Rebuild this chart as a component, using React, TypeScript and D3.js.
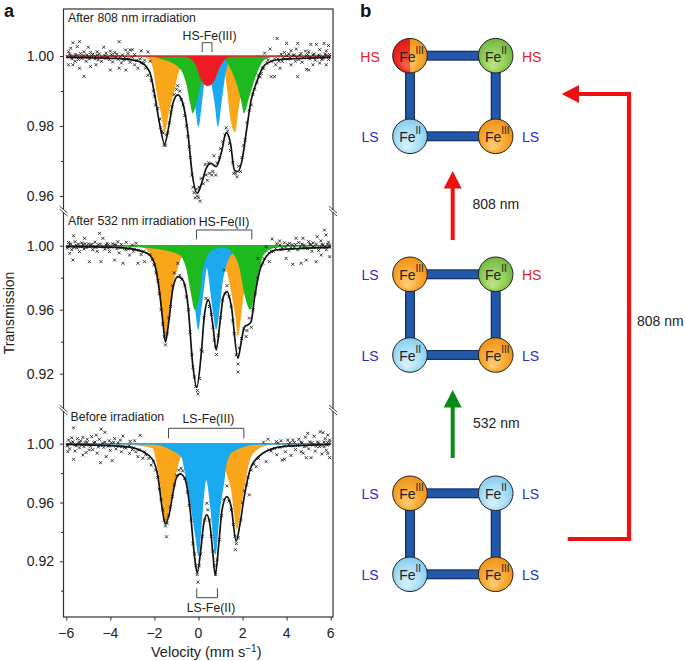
import { useEffect, useRef } from 'react';
import * as d3 from 'd3';

type Pt = [number, number];

const FONT = '"Liberation Sans", Arial, sans-serif';

const ORANGE = '#f9a61a';
const BLUE = '#1ba9f0';
const GREEN = '#1eb91e';
const RED = '#ee1c25';

const xTicks = [-6, -4, -2, 0, 2, 4, 6];

// --- After 808 nm (top panel) ---
const top808YTicks = [1.0, 0.98, 0.96];
const top808YMinor = [0.99, 0.97];

const top808Orange: Pt[] = [[-6, 1], [-2.6, 0.9998], [-2.22, 0.999], [-2.05, 0.996], [-1.92, 0.9903], [-1.7, 0.9836], [-1.54, 0.9784], [-1.32, 0.9846], [-1.09, 0.9903], [-0.86, 0.996], [-0.41, 0.9989], [0.5, 0.9992], [1.1, 0.9984], [1.3, 0.9903], [1.45, 0.982], [1.66, 0.9782], [1.83, 0.9855], [1.94, 0.9893], [2.16, 0.995], [2.62, 0.9989], [3.2, 0.9998], [6, 1]];
const top808Blue: Pt[] = [[-6, 1], [-1.5, 0.9998], [-0.8, 0.9975], [-0.41, 0.9941], [-0.17, 0.9865], [0, 0.9798], [0.17, 0.9874], [0.27, 0.9922], [0.44, 0.9935], [0.57, 0.9922], [0.73, 0.9865], [0.88, 0.9798], [1.06, 0.9874], [1.18, 0.9931], [1.33, 0.9974], [1.71, 0.9993], [2.4, 0.9998], [6, 1]];
const top808Green: Pt[] = [[-6, 1], [-2.2, 0.9998], [-1.62, 0.999], [-0.86, 0.9965], [-0.56, 0.9922], [-0.38, 0.9865], [-0.26, 0.9836], [-0.1, 0.9865], [0.12, 0.9922], [0.5, 0.997], [1.18, 0.9989], [1.48, 0.996], [1.79, 0.9908], [1.95, 0.9868], [2.06, 0.9836], [2.31, 0.9884], [2.62, 0.9946], [3, 0.9989], [3.5, 0.9998], [6, 1]];
const top808Red: Pt[] = [[-6, 1], [-0.7, 0.9999], [-0.48, 0.9996], [-0.1, 0.997], [0.12, 0.9931], [0.42, 0.9914], [0.73, 0.9931], [0.95, 0.9965], [1.33, 0.9996], [1.6, 0.9999], [6, 1]];
const top808Fit: Pt[] = [[-6, 0.9996], [-3.74, 0.9993], [-2.68, 0.9984], [-2.22, 0.9955], [-2, 0.9893], [-1.77, 0.9808], [-1.54, 0.9749], [-1.35, 0.9798], [-1.16, 0.9865], [-0.94, 0.9889], [-0.71, 0.9865], [-0.48, 0.9779], [-0.29, 0.9665], [-0.06, 0.9608], [0.12, 0.9632], [0.35, 0.9679], [0.57, 0.9693], [0.8, 0.9684], [1.03, 0.9722], [1.26, 0.9781], [1.45, 0.9751], [1.63, 0.9674], [1.79, 0.967], [1.98, 0.9703], [2.16, 0.9779], [2.39, 0.9874], [2.62, 0.9922], [3, 0.9974], [3.68, 0.999], [6, 0.9996]];
const top808Points: Pt[] = [
  [-5.7, 1.0038], [-5.4, 1.0041], [-5.8, 1.0022], [-5.5, 1.0027], [-5, 1.0025], [-4.3, 1.0025], [-3.6, 1.0041], [-3.3, 1.0017], [-3.1, 1.0017], [-2.3, 1.0012], [-2.6, 1.0015], [-3, 1.0018], [-4.6, 1.0012], [-4.9, 1.001], [-5.2, 1.0012], [-4, 1.0014], [-3.8, 1.001], [-5.9, 1.0012],
  [-5.2, 0.9942], [-5.9, 0.9975], [-5.7, 0.9975], [-5.4, 0.9965], [-4.9, 0.997], [-4.65, 0.9975], [-4, 0.996], [-3.6, 0.9965], [-3.3, 0.996], [-2.75, 0.9965], [-2.45, 0.9988], [-5.6, 0.9985], [-5.1, 0.9985], [-4.4, 0.9985], [-3.9, 0.9983], [-3.5, 0.998], [-3.1, 0.9982], [-2.9, 0.9975], [-2.6, 0.998], [-4.7, 0.9992], [-5.3, 0.9993], [-4.2, 0.9993], [-3.4, 0.9988], [-2.2, 0.9985],
  [-5.85, 1.0006], [-5.6, 1.0004], [-5.35, 1.0007], [-5.05, 1.0003], [-4.8, 1.0005], [-4.5, 1.0006], [-4.2, 1.0008], [-3.95, 1.0004], [-3.7, 1.0005], [-3.45, 1.0003], [-3.2, 1.0007], [-2.9, 1.0004], [-5.75, 0.9992], [-5.45, 0.999], [-4.95, 0.9991], [-4.55, 0.9989], [-4.05, 0.999], [-3.65, 0.9991], [-3.25, 0.9991],
  [3.57, 1.005], [4, 1.0036], [4.5, 1.0036], [4.44, 1.002], [5.1, 1.0033], [5.35, 1.0033], [5.7, 1.0036], [5.9, 1.003], [3.25, 1.002], [3, 1.0008], [4.85, 1.0014], [5.5, 1.0018], [4.2, 1.0015], [3.9, 1.001], [5, 1.0012], [5.8, 1.0015],
  [3.3, 0.9941], [3.45, 0.9941], [4.5, 0.9941], [5, 0.996], [4.9, 0.9962], [4.2, 0.9975], [3.7, 0.9965], [3.5, 0.9975], [5.2, 0.9975], [5.5, 0.998], [5.8, 0.9975], [3.8, 0.9985], [4.4, 0.9985], [4.7, 0.9982], [5.3, 0.9988], [5.6, 0.999], [3.15, 0.9988], [3.1, 0.998], [2.9, 0.9965], [2.8, 0.994],
  [3.75, 1.0005], [4.1, 1.0006], [4.35, 1.0003], [4.65, 1.0007], [4.95, 1.0004], [5.25, 1.0006], [5.45, 1.0003], [5.75, 1.0006], [5.95, 1.0004], [3.6, 0.9992], [4.05, 0.9991], [4.55, 0.999], [5.05, 0.9992], [5.65, 0.9993], [5.9, 0.999],
  [-2.3, 0.9945], [-2.15, 0.993], [-2.05, 0.99], [-2, 0.9885], [-1.95, 0.986], [-1.85, 0.985], [-1.75, 0.982], [-1.72, 0.9795], [-1.65, 0.9785], [-1.6, 0.978], [-1.56, 0.9745], [-1.5, 0.9745], [-1.45, 0.9775], [-1.4, 0.978], [-1.33, 0.981], [-1.25, 0.984], [-1.2, 0.9855], [-1.1, 0.989], [-1, 0.9905], [-0.95, 0.9915], [-0.85, 0.99], [-0.78, 0.9875], [-0.7, 0.986], [-0.62, 0.983], [-0.55, 0.98], [-0.48, 0.977], [-0.42, 0.974], [-0.37, 0.971], [-0.3, 0.966], [-0.25, 0.9625], [-0.2, 0.961], [-0.15, 0.9595], [-0.1, 0.962], [-0.05, 0.96], [0, 0.9595], [0.03, 0.9625], [0.07, 0.9585], [0.12, 0.965], [0.22, 0.9635], [0.3, 0.969], [0.35, 0.966], [0.4, 0.9645], [0.46, 0.9695], [0.5, 0.9665], [0.6, 0.966], [0.65, 0.967], [0.7, 0.9715], [0.78, 0.966], [0.85, 0.9695], [0.95, 0.971], [1, 0.9735], [1.1, 0.9755], [1.2, 0.9775], [1.26, 0.9795], [1.32, 0.9785], [1.4, 0.975], [1.45, 0.973], [1.55, 0.9695], [1.6, 0.9665], [1.68, 0.9665], [1.75, 0.9655], [1.82, 0.9685], [1.9, 0.967], [1.97, 0.971], [2.05, 0.9745], [2.12, 0.976], [2.2, 0.981], [2.3, 0.9845], [2.4, 0.986], [2.47, 0.989], [2.55, 0.9905], [2.65, 0.9925], [2.72, 0.9945], [2.85, 0.995], [2.95, 0.9965],
  // dense band hugging the baseline
  [-5.95, 0.9998], [-5.8, 1.0001], [-5.65, 0.9997], [-5.5, 1.0002], [-5.3, 0.9998], [-5.2, 1.0001], [-5, 0.9997], [-4.85, 1.0001], [-4.7, 0.9998], [-4.6, 1.0002], [-4.4, 0.9997], [-4.25, 1.0001], [-4.1, 0.9997], [-3.9, 1.0001], [-3.75, 0.9996], [-3.55, 0.9998], [-3.35, 0.9995], [-3.15, 0.9992], [-3, 0.9996], [-2.8, 0.9988], [-2.65, 0.9992], [-2.5, 0.9978], [-2.4, 0.9965],
  [3.3, 0.9985], [3.45, 0.9992], [3.65, 0.9985], [3.85, 0.9995], [4, 1.0001], [4.15, 0.9994], [4.3, 1.0002], [4.45, 0.9996], [4.6, 1.0002], [4.75, 0.9995], [4.9, 1.0001], [5.05, 0.9996], [5.2, 1.0003], [5.35, 0.9997], [5.5, 1.0001], [5.65, 0.9997], [5.8, 1.0002], [5.95, 0.9998],
];

// --- After 532 nm (middle panel) ---
const mid532YTicks = [1.0, 0.96, 0.92];
const mid532YMinor = [0.98, 0.94];

const mid532Orange: Pt[] = [[-6, 1], [-3, 0.9995], [-2.53, 0.9988], [-2.07, 0.9921], [-1.85, 0.9755], [-1.65, 0.9567], [-1.5, 0.9422], [-1.32, 0.9588], [-1.09, 0.9796], [-0.94, 0.9859], [-0.79, 0.9921], [-0.1, 0.9973], [0.8, 0.9975], [1.23, 0.9869], [1.48, 0.9713], [1.68, 0.9547], [1.79, 0.9426], [1.94, 0.9567], [2.09, 0.9734], [2.35, 0.9859], [2.77, 0.9952], [3.4, 0.9995], [6, 1]];
const mid532Blue: Pt[] = [[-6, 1], [-2, 0.9995], [-1.47, 0.9988], [-0.71, 0.9963], [-0.35, 0.985], [-0.17, 0.963], [0, 0.9474], [0.08, 0.9547], [0.27, 0.9755], [0.38, 0.9859], [0.5, 0.9755], [0.65, 0.9588], [0.8, 0.9474], [0.98, 0.963], [1.1, 0.9775], [1.23, 0.9859], [1.56, 0.9952], [2.16, 0.9983], [3, 0.9995], [6, 1]];
const mid532Green: Pt[] = [[-6, 1], [-3.2, 0.9996], [-2.53, 0.9988], [-1.62, 0.9973], [-0.86, 0.9942], [-0.56, 0.9859], [-0.33, 0.9692], [-0.18, 0.9599], [0.05, 0.9692], [0.2, 0.9859], [0.65, 0.9973], [1.18, 0.9988], [1.56, 0.9952], [1.86, 0.9859], [2.09, 0.9692], [2.36, 0.9599], [2.57, 0.9713], [2.77, 0.9859], [3, 0.9952], [3.52, 0.9988], [4.2, 0.9996], [6, 1]];
const mid532Fit: Pt[] = [[-6, 0.9994], [-3.74, 0.999], [-2.53, 0.9963], [-2.22, 0.9942], [-2, 0.989], [-1.77, 0.9713], [-1.62, 0.9526], [-1.5, 0.9397], [-1.35, 0.9526], [-1.16, 0.9734], [-0.94, 0.9807], [-0.71, 0.9786], [-0.48, 0.963], [-0.26, 0.9255], [-0.08, 0.9114], [0.12, 0.9318], [0.27, 0.9567], [0.45, 0.9661], [0.65, 0.9505], [0.8, 0.9349], [0.98, 0.9526], [1.13, 0.9682], [1.3, 0.9713], [1.48, 0.963], [1.79, 0.9297], [1.94, 0.94], [2.09, 0.9495], [2.24, 0.9505], [2.39, 0.9526], [2.54, 0.9671], [2.77, 0.9838], [3.07, 0.9931], [3.52, 0.9973], [6, 0.999]];
const mid532Points: Pt[] = [
  [-4.49, 1.0077], [-5.67, 1.0062], [-5.17, 1.0046], [-4.34, 1.0046], [-3.66, 1.0025], [-3.28, 1.0021], [-2.83, 1.0015], [-5.85, 0.9952], [-5.7, 0.991], [-4.95, 0.99], [-4.42, 0.99], [-3.81, 0.991], [-3.43, 0.989], [-2.75, 0.989], [-2.45, 0.99], [-5.4, 0.9963], [-4.8, 0.9975], [-4.04, 0.9963], [-3.13, 0.9942],
  [-5.9, 1.002], [-5.6, 1.0025], [-5.3, 1.0018], [-5, 1.0012], [-4.7, 1.0022], [-4.15, 1.0015], [-3.9, 1.0012], [-3.5, 1.0008], [-3, 1.0005], [-5.75, 0.9975], [-5.5, 0.9985], [-5.2, 0.998], [-4.6, 0.9965], [-4.25, 0.9978], [-3.6, 0.9955], [-3.3, 0.9975], [-2.95, 0.9965], [-2.6, 0.9945],
  [-5.85, 1.0005], [-5.55, 1.0003], [-5.25, 1.0006], [-4.9, 1.0004], [-4.55, 1.0007], [-4.2, 1.0004], [-3.75, 1.0003], [-5.95, 0.9985], [-5.65, 0.999], [-5.1, 0.9988], [-4.65, 0.999], [-4.1, 0.9985], [-3.7, 0.9982], [-3.2, 0.998],
  [5.72, 1.0098], [5.79, 1.0067], [5.39, 1.0056], [4.74, 1.0046], [4.43, 1.0046], [3.34, 1.0042], [3.68, 1.0029], [4.13, 1.0015], [3.07, 0.9994], [3.22, 0.99], [4.28, 0.9884], [4.66, 0.989], [4.89, 0.991], [5.34, 0.99], [5.57, 0.9942], [5.95, 0.9931], [3.98, 0.9921], [2.92, 0.989], [2.69, 0.9921],
  [3.55, 1.0012], [3.9, 1.0018], [4.55, 1.002], [5, 1.0025], [5.2, 1.0018], [5.55, 1.003], [5.9, 1.0022], [3.8, 0.9985], [4.1, 0.997], [4.5, 0.9975], [4.95, 0.9982], [5.15, 0.9965], [5.45, 0.997], [5.8, 0.9975], [3.4, 0.9965],
  [3.7, 1.0005], [4.25, 1.0006], [4.8, 1.0004], [5.1, 1.0006], [5.65, 1.0005], [5.95, 1.0004], [4.35, 0.9992], [4.75, 0.9988], [5.25, 0.999], [5.7, 0.9988],
  [-2.2, 0.9945], [-2.1, 0.991], [-2.02, 0.988], [-1.93, 0.983], [-1.85, 0.978], [-1.78, 0.97], [-1.7, 0.96], [-1.62, 0.951], [-1.55, 0.943], [-1.5, 0.938], [-1.42, 0.945], [-1.35, 0.955], [-1.27, 0.962], [-1.18, 0.975], [-1.1, 0.983], [-0.94, 0.989], [-0.85, 0.9815], [-0.75, 0.979], [-0.62, 0.975], [-0.55, 0.968], [-0.45, 0.96], [-0.38, 0.946], [-0.3, 0.932], [-0.25, 0.924], [-0.18, 0.918], [-0.12, 0.912], [-0.05, 0.9095], [-0.03, 0.9074], [0.05, 0.917], [0.12, 0.935], [0.17, 0.9339], [0.25, 0.955], [0.35, 0.9671], [0.42, 0.966], [0.5, 0.962], [0.58, 0.957], [0.65, 0.949], [0.72, 0.941], [0.78, 0.937], [0.82, 0.932], [0.9, 0.944], [1, 0.955], [1.08, 0.966], [1.18, 0.9848], [1.22, 0.97], [1.29, 0.975], [1.38, 0.968], [1.48, 0.962], [1.55, 0.953], [1.62, 0.945], [1.71, 0.9318], [1.79, 0.926], [1.79, 0.921], [1.85, 0.936], [1.95, 0.942], [2.05, 0.948], [2.16, 0.9432], [2.2, 0.947], [2.31, 0.9547], [2.4, 0.949], [2.48, 0.96], [2.58, 0.97], [2.68, 0.98], [2.85, 0.988], [2.98, 0.992], [3.2, 0.9955],
  // dense band hugging the baseline
  [-5.95, 0.9995], [-5.8, 1.0012], [-5.65, 0.9992], [-5.45, 1.001], [-5.35, 0.9994], [-5.15, 1.0012], [-5, 0.9994], [-4.85, 1.0009], [-4.7, 0.9992], [-4.45, 1.001], [-4.3, 0.9992], [-4.1, 1.0006], [-3.95, 0.9992], [-3.8, 1.0006], [-3.55, 0.9988], [-3.35, 0.9982], [-3.1, 0.9985], [-2.9, 0.9978], [-2.7, 0.9972], [-2.5, 0.9965], [-2.35, 0.9955],
  [3.3, 0.9965], [3.5, 0.9982], [3.75, 0.9975], [3.95, 0.9992], [4.05, 1.0006], [4.2, 0.9985], [4.4, 1.0008], [4.6, 0.9992], [4.7, 1.001], [4.85, 0.9985], [5.05, 1.0008], [5.2, 0.9992], [5.35, 1.001], [5.5, 0.9988], [5.6, 1.0008], [5.75, 0.9992], [5.85, 1.001], [5.95, 0.9992],
];

// --- Before irradiation (bottom panel) ---
const bottomYTicks = [1.0, 0.96, 0.92];
const bottomYMinor = [0.98, 0.94, 0.9];

const bottomOrange: Pt[] = [[-6, 1], [-3.28, 0.9995], [-2.6, 0.9985], [-2.07, 0.9968], [-1.95, 0.99], [-1.77, 0.9754], [-1.62, 0.9573], [-1.51, 0.9455], [-1.32, 0.957], [-1.135, 0.9708], [-0.94, 0.9844], [-0.56, 0.996], [0.4, 0.998], [1.05, 0.996], [1.25, 0.981], [1.48, 0.9686], [1.74, 0.9415], [1.94, 0.9573], [2.09, 0.9708], [2.39, 0.9912], [2.92, 0.998], [3.5, 0.9995], [6, 1]];
const bottomBlue: Pt[] = [[-6, 1], [-2.07, 0.9995], [-1.16, 0.9951], [-0.78, 0.9908], [-0.56, 0.9754], [-0.33, 0.955], [-0.15, 0.937], [0, 0.9234], [0.2, 0.955], [0.35, 0.975], [0.545, 0.955], [0.77, 0.9245], [0.98, 0.955], [1.18, 0.975], [1.285, 0.987], [1.56, 0.9946], [2.75, 0.9995], [6, 1]];
const bottomFit: Pt[] = [[-6, 0.9995], [-3.83, 0.9985], [-3.28, 0.998], [-2.52, 0.9946], [-2.07, 0.989], [-1.84, 0.9776], [-1.66, 0.9573], [-1.51, 0.9455], [-1.32, 0.9528], [-1.16, 0.9664], [-1.01, 0.9765], [-0.82, 0.9795], [-0.6, 0.9754], [-0.38, 0.955], [-0.18, 0.9234], [-0.06, 0.9121], [0.12, 0.9301], [0.24, 0.946], [0.38, 0.9516], [0.53, 0.9437], [0.65, 0.9257], [0.76, 0.9105], [0.91, 0.9301], [1.07, 0.955], [1.29, 0.964], [1.48, 0.9573], [1.71, 0.9336], [1.89, 0.946], [2.09, 0.9652], [2.39, 0.9844], [2.92, 0.9935], [3.83, 0.998], [6, 0.9995]];
const bottomPoints: Pt[] = [
  [-5.67, 1.0108], [-4.42, 1.0099], [-4.25, 1.0077], [-4.64, 1.0059], [-2.65, 1.0057], [-3.43, 1.0052], [-5.25, 1.0043], [-5.67, 0.9894], [-4.45, 0.9871], [-3.92, 0.9885], [-5.25, 0.9923], [-5.93, 0.9946], [-4.95, 0.9957], [-4.19, 0.9912], [-3.13, 0.9934], [-2.75, 0.9912], [-2.53, 0.9901],
  [-5.9, 1.0025], [-5.75, 1.004], [-5.5, 1.0035], [-5.35, 1.002], [-5.05, 1.003], [-4.85, 1.0048], [-4.5, 1.003], [-4.05, 1.002], [-3.8, 1.0035], [-3.55, 1.0025], [-3.1, 1.0015], [-2.9, 1.002],
  [-5.85, 0.9965], [-5.6, 0.995], [-5.4, 0.9972], [-5.1, 0.994], [-4.8, 0.996], [-4.6, 0.9935], [-4.3, 0.9975], [-4, 0.9955], [-3.75, 0.9965], [-3.5, 0.9945], [-3.3, 0.997], [-3, 0.996], [-2.85, 0.9945], [-2.4, 0.9925], [-2.25, 0.99],
  [-5.8, 1.0006], [-5.45, 1.0005], [-5.15, 1.0008], [-4.75, 1.0006], [-4.35, 1.0004], [-3.95, 1.0006], [-3.65, 1.0004], [-5.95, 0.9985], [-5.55, 0.9985], [-5.2, 0.998], [-4.9, 0.9982], [-4.55, 0.9978], [-4.1, 0.9985], [-3.45, 0.998],
  [3.8, 0.9889], [3.9, 0.9894], [4.89, 0.9905], [5.11, 0.9905], [3.07, 0.9878], [2.62, 0.9844], [2.31, 0.9652], [5.52, 1.0081], [4.96, 1.007], [5.87, 1.0059], [4.28, 1.0025], [3.53, 1.0014], [5.87, 0.9934], [4.66, 0.9946], [5.49, 0.998],
  [5.65, 1.0075], [5.25, 1.005], [4.85, 1.0045], [4.55, 1.003], [4.05, 1.0025], [3.75, 1.002], [3.15, 1.003], [2.95, 1.001], [5.75, 1.0035], [5.95, 1.0025], [3.3, 0.995], [3.55, 0.9925], [3.95, 0.9945], [4.2, 0.992], [4.4, 0.996], [4.75, 0.9935], [5, 0.9965], [5.3, 0.995], [5.6, 0.993], [5.8, 0.9955], [5.95, 0.9905],
  [3.6, 1.0005], [4.15, 1.0006], [4.7, 1.0005], [5.15, 1.0007], [5.45, 1.0005], [5.85, 1.0008], [4.3, 0.9985], [4.8, 0.998], [5.35, 0.9982], [5.7, 0.998],
  [-2.15, 0.9855], [-2.05, 0.988], [-1.95, 0.982], [-1.85, 0.977], [-1.78, 0.969], [-1.7, 0.962], [-1.62, 0.955], [-1.55, 0.948], [-1.5, 0.944], [-1.45, 0.9367], [-1.42, 0.946], [-1.36, 0.951], [-1.28, 0.957], [-1.18, 0.964], [-1.1, 0.972], [-1, 0.9785], [-0.9, 0.982], [-0.79, 0.9833], [-0.72, 0.9815], [-0.62, 0.9765], [-0.5, 0.967], [-0.42, 0.958], [-0.33, 0.948], [-0.25, 0.932], [-0.18, 0.925], [-0.12, 0.917], [-0.06, 0.911], [-0.03, 0.9058], [0.03, 0.917], [0.1, 0.925], [0.18, 0.937], [0.28, 0.948], [0.38, 0.9595], [0.42, 0.955], [0.5, 0.948], [0.58, 0.937], [0.65, 0.927], [0.72, 0.917], [0.78, 0.911], [0.85, 0.921], [0.95, 0.935], [1.05, 0.951], [1.15, 0.962], [1.29, 0.9713], [1.38, 0.961], [1.48, 0.955], [1.58, 0.945], [1.65, 0.937], [1.68, 0.9279], [1.72, 0.932], [1.8, 0.936], [1.92, 0.948], [2, 0.96], [2.09, 0.968], [2.18, 0.972], [2.25, 0.977], [2.4, 0.982], [2.52, 0.986], [2.72, 0.99],
  // dense band hugging the baseline
  [-5.95, 0.9992], [-5.7, 1.0012], [-5.6, 0.9992], [-5.4, 1.0012], [-5.3, 0.9992], [-5.05, 1.001], [-4.95, 0.999], [-4.7, 1.0012], [-4.45, 0.9988], [-4.25, 1.001], [-4.05, 0.9985], [-3.85, 1.0008], [-3.6, 0.9982], [-3.35, 0.9975], [-3.15, 0.9985], [-2.95, 0.9972], [-2.7, 0.9958], [-2.45, 0.9945],
  [3.2, 0.9958], [3.45, 0.9968], [3.7, 0.9975], [3.9, 0.9985], [4.1, 0.9992], [4.35, 1.0008], [4.5, 0.9988], [4.65, 1.001], [4.9, 0.9985], [5.05, 1.0012], [5.2, 0.999], [5.4, 1.0012], [5.55, 0.9988], [5.7, 1.0012], [5.85, 0.999], [5.95, 1.001],
];

const yTickFmt = d3.format('.2f');

// spectrum fill helper: area between the baseline and the component curve
function drawPanel(
  svg: d3.Selection<SVGSVGElement, unknown, null, undefined>,
  x: d3.ScaleLinear<number, number>,
  y: d3.ScaleLinear<number, number>,
  layers: { pts: Pt[]; color: string }[],
  baseline: string,
  fit: Pt[],
  points: Pt[],
  yTicks: number[],
  yMinor: number[],
) {
  const area = d3
    .area<Pt>()
    .x(d => x(d[0]))
    .y0(y(1))
    .y1(d => y(d[1]))
    .curve(d3.curveMonotoneX);

  layers.forEach(l => {
    svg.append('path').attr('d', area(l.pts)).attr('fill', l.color);
  });

  svg
    .append('line')
    .attr('x1', x(-6))
    .attr('x2', x(6))
    .attr('y1', y(1))
    .attr('y2', y(1))
    .attr('stroke', baseline)
    .attr('stroke-width', 1.6);

  // scatter of measured counts
  const size = 1.5;
  svg
    .append('g')
    .selectAll('path')
    .data(points)
    .enter()
    .append('path')
    .attr('transform', d => `translate(${x(d[0])},${y(d[1])})`)
    .attr('d', `M${-size},${-size}L${size},${size}M${-size},${size}L${size},${-size}`)
    .attr('stroke', '#1a1a1a')
    .attr('stroke-width', 0.85)
    .attr('fill', 'none');

  const line = d3
    .line<Pt>()
    .x(d => x(d[0]))
    .y(d => y(d[1]))
    .curve(d3.curveMonotoneX);

  svg
    .append('path')
    .attr('d', line(fit))
    .attr('fill', 'none')
    .attr('stroke', '#111')
    .attr('stroke-width', 1.7);

  // y axis ticks point outward
  const left = 63.5;
  const axis = svg.append('g').attr('transform', `translate(${left},0)`);
  axis
    .call(d3.axisLeft(y).tickValues(yTicks).tickSize(3.5).tickFormat(() => ''))
    .call(g => g.select('.domain').remove());
  axis.selectAll('line').attr('stroke', '#333');
  axis
    .append('g')
    .call(d3.axisLeft(y).tickValues(yMinor).tickSize(2.5).tickFormat(() => ''))
    .call(g => g.select('.domain').remove())
    .selectAll('line')
    .attr('stroke', '#333');

  svg
    .append('g')
    .selectAll('text')
    .data(yTicks)
    .enter()
    .append('text')
    .attr('x', 54)
    .attr('y', d => y(d) + 5)
    .attr('text-anchor', 'end')
    .attr('font-size', 14)
    .attr('fill', '#222')
    .text(d => yTickFmt(d));
}

function label(
  svg: d3.Selection<SVGSVGElement, unknown, null, undefined>,
  txt: string,
  px: number,
  py: number,
  size = 12.3,
  anchor = 'start',
  fill = '#222',
  weight = 'normal',
) {
  return svg
    .append('text')
    .attr('x', px)
    .attr('y', py)
    .attr('font-size', size)
    .attr('text-anchor', anchor)
    .attr('fill', fill)
    .attr('font-weight', weight)
    .text(txt);
}

function bracket(
  svg: d3.Selection<SVGSVGElement, unknown, null, undefined>,
  px0: number,
  px1: number,
  yEnd: number,
  yBar: number,
) {
  svg
    .append('path')
    .attr('d', `M${px0},${yEnd}V${yBar}H${px1}V${yEnd}`)
    .attr('fill', 'none')
    .attr('stroke', '#333')
    .attr('stroke-width', 0.9);
}

export default function App() {
  const svgRef = useRef<SVGSVGElement>(null);

  useEffect(() => {
    if (!svgRef.current) return;
    const svg = d3.select(svgRef.current);
    svg.selectAll('*').remove();

    const x = d3.scaleLinear().domain([-6, 6]).range([66.3, 330.7]);
    const yTop = d3.scaleLinear().domain([1.0, 0.96]).range([56, 196]);
    const yMid = d3.scaleLinear().domain([1.0, 0.92]).range([245.7, 373.7]);
    const yBot = d3.scaleLinear().domain([1.0, 0.92]).range([443.7, 561.3]);

    drawPanel(
      svg,
      x,
      yTop,
      [
        { pts: top808Orange, color: ORANGE },
        { pts: top808Blue, color: BLUE },
        { pts: top808Green, color: GREEN },
        { pts: top808Red, color: RED },
      ],
      RED,
      top808Fit,
      top808Points,
      top808YTicks,
      top808YMinor,
    );
    drawPanel(
      svg,
      x,
      yMid,
      [
        { pts: mid532Orange, color: ORANGE },
        { pts: mid532Blue, color: BLUE },
        { pts: mid532Green, color: GREEN },
      ],
      GREEN,
      mid532Fit,
      mid532Points,
      mid532YTicks,
      mid532YMinor,
    );
    drawPanel(
      svg,
      x,
      yBot,
      [
        { pts: bottomOrange, color: ORANGE },
        { pts: bottomBlue, color: BLUE },
      ],
      BLUE,
      bottomFit,
      bottomPoints,
      bottomYTicks,
      bottomYMinor,
    );

    // frame
    svg
      .append('rect')
      .attr('x', 63.5)
      .attr('y', 9)
      .attr('width', 269.5)
      .attr('height', 608)
      .attr('fill', 'none')
      .attr('stroke', '#333')
      .attr('stroke-width', 1.2);

    // axis break marks
    [211, 410].forEach(by => {
      [63.5, 333].forEach(bx => {
        svg
          .append('line')
          .attr('x1', bx)
          .attr('x2', bx)
          .attr('y1', by - 1)
          .attr('y2', by + 1)
          .attr('stroke', '#fff')
          .attr('stroke-width', 2);
        [-1.5, 1.5].forEach(off => {
          svg
            .append('line')
            .attr('x1', bx - 4)
            .attr('y1', by + off - 3.5)
            .attr('x2', bx + 4)
            .attr('y2', by + off + 3.5)
            .attr('stroke', '#333')
            .attr('stroke-width', 0.9);
        });
      });
    });

    // x axis
    const xAxisG = svg.append('g').attr('transform', 'translate(0,617)');
    xAxisG
      .call(d3.axisBottom(x).tickValues(xTicks).tickSize(3.5).tickFormat(() => ''))
      .call(g => g.select('.domain').remove());
    xAxisG.selectAll('line').attr('stroke', '#333');
    svg
      .append('g')
      .selectAll('text')
      .data(xTicks)
      .enter()
      .append('text')
      .attr('x', d => x(d))
      .attr('y', 638)
      .attr('text-anchor', 'middle')
      .attr('font-size', 14)
      .attr('fill', '#222')
      .text(d => String(d).replace('-', '\u2212'));

    const velocity = label(svg, 'Velocity (mm s', 151, 657, 14.5);
    velocity.append('tspan').attr('dy', -5).attr('font-size', 10).text('\u22121');
    velocity.append('tspan').attr('dy', 5).text(')');

    svg
      .append('text')
      .attr('transform', 'translate(14,313) rotate(-90)')
      .attr('text-anchor', 'middle')
      .attr('font-size', 14)
      .attr('fill', '#222')
      .text('Transmission');

    label(svg, 'a', 4, 16.5, 18, 'start', '#111', 'bold');
    label(svg, 'b', 360, 17, 18.5, 'start', '#111', 'bold');

    label(svg, 'After 808 nm irradiation', 68, 21.5);
    label(svg, 'HS-Fe(III)', 209.5, 39.5, 12.3, 'middle');
    bracket(svg, x(0.17), x(0.61), 52, 42.7);

    label(svg, 'After 532 nm irradiation', 68, 224.5);
    label(svg, 'HS-Fe(II)', 224, 225.5, 12.3, 'middle');
    bracket(svg, x(-0.09), x(2.42), 239.3, 230);

    label(svg, 'Before irradiation', 70.5, 421);
    label(svg, 'LS-Fe(III)', 208.5, 423, 12.3, 'middle');
    bracket(svg, x(-1.36), x(2.06), 438.3, 428.3);
    bracket(svg, x(-0.08), x(0.86), 588.3, 597.7);
    label(svg, 'LS-Fe(II)', 211, 611.5, 12.3, 'middle');

    // --- panel b ---
    const defs = svg.append('defs');
    const grad = (id: string, light: string, mid: string, dark: string) => {
      const g = defs
        .append('radialGradient')
        .attr('id', id)
        .attr('cx', '0.5')
        .attr('cy', '0.5')
        .attr('r', '0.55')
        .attr('fx', '0.4')
        .attr('fy', '0.85');
      g.append('stop').attr('offset', '0%').attr('stop-color', light);
      g.append('stop').attr('offset', '60%').attr('stop-color', mid);
      g.append('stop').attr('offset', '100%').attr('stop-color', dark);
    };
    grad('g-orange', '#ffcf78', '#f9a935', '#ef8f10');
    grad('g-blue', '#d8f2fb', '#ace0f6', '#7fc9ec');
    grad('g-green', '#bfe58a', '#93ce5a', '#6db33c');
    grad('g-red', '#f96a50', '#ec2a22', '#dd1414');
    defs
      .append('clipPath')
      .attr('id', 'half-left')
      .append('rect')
      .attr('x', -20)
      .attr('y', -20)
      .attr('width', 20)
      .attr('height', 40);

    const siteX = [410, 495.7];
    type Site = { fe: 'II' | 'III'; fill: string; spin: 'HS' | 'LS'; half?: boolean };
    const squares: { rows: number[]; sites: Site[] }[] = [
      {
        rows: [55.7, 136.3],
        sites: [
          { fe: 'III', fill: 'g-orange', spin: 'HS', half: true },
          { fe: 'II', fill: 'g-green', spin: 'HS' },
          { fe: 'II', fill: 'g-blue', spin: 'LS' },
          { fe: 'III', fill: 'g-orange', spin: 'LS' },
        ],
      },
      {
        rows: [274.3, 355],
        sites: [
          { fe: 'III', fill: 'g-orange', spin: 'LS' },
          { fe: 'II', fill: 'g-green', spin: 'HS' },
          { fe: 'II', fill: 'g-blue', spin: 'LS' },
          { fe: 'III', fill: 'g-orange', spin: 'LS' },
        ],
      },
      {
        rows: [493.3, 574.3],
        sites: [
          { fe: 'III', fill: 'g-orange', spin: 'LS' },
          { fe: 'II', fill: 'g-blue', spin: 'LS' },
          { fe: 'II', fill: 'g-blue', spin: 'LS' },
          { fe: 'III', fill: 'g-orange', spin: 'LS' },
        ],
      },
    ];

    squares.forEach(sq => {
      const [r0, r1] = sq.rows;
      svg
        .append('rect')
        .attr('x', siteX[0])
        .attr('y', r0)
        .attr('width', siteX[1] - siteX[0])
        .attr('height', r1 - r0)
        .attr('fill', 'none')
        .attr('stroke', '#14306f')
        .attr('stroke-width', 10);
      svg
        .append('rect')
        .attr('x', siteX[0])
        .attr('y', r0)
        .attr('width', siteX[1] - siteX[0])
        .attr('height', r1 - r0)
        .attr('fill', 'none')
        .attr('stroke', '#2358a8')
        .attr('stroke-width', 7.5);

      sq.sites.forEach((s, i) => {
        const cx = siteX[i % 2];
        const cy = sq.rows[i < 2 ? 0 : 1];
        const g = svg.append('g').attr('transform', `translate(${cx},${cy})`);
        g.append('circle').attr('r', 17.3).attr('fill', `url(#${s.fill})`);
        if (s.half) {
          g.append('circle')
            .attr('r', 17.3)
            .attr('fill', 'url(#g-red)')
            .attr('clip-path', 'url(#half-left)');
        }
        g.append('circle')
          .attr('r', 17.3)
          .attr('fill', 'none')
          .attr('stroke', '#222')
          .attr('stroke-width', 1);
        const t = g
          .append('text')
          .attr('x', -10.8)
          .attr('y', 6)
          .attr('font-size', 14)
          .attr('fill', '#222')
          .text('Fe');
        t.append('tspan').attr('dy', -8).attr('font-size', 10).text(s.fe);

        const spinColor = s.spin === 'HS' ? '#e3202c' : '#2b2bd0';
        const isLeft = i % 2 === 0;
        label(svg, s.spin, isLeft ? 370 : 522, cy + 6, 14, isLeft ? 'middle' : 'start', spinColor);
      });
    });

    const upArrow = (ax: number, yTip: number, yEnd: number, color: string) => {
      svg
        .append('path')
        .attr('d', `M${ax - 2},${yEnd}V${yTip + 17.5}H${ax - 9}L${ax},${yTip}L${ax + 9},${yTip + 17.5}H${ax + 2}V${yEnd}Z`)
        .attr('fill', color);
    };
    upArrow(452.7, 171, 240, '#ee1111');
    upArrow(452.7, 390, 458, '#0a8a16');
    label(svg, '808 nm', 472.5, 209, 14);
    label(svg, '532 nm', 473, 428, 14);

    svg
      .append('path')
      .attr('d', 'M567.7,539H629V94H572')
      .attr('fill', 'none')
      .attr('stroke', '#ee1111')
      .attr('stroke-width', 4.2);
    svg.append('path').attr('d', 'M561.7,94L579,85V103Z').attr('fill', '#ee1111');
    label(svg, '808 nm', 637, 326, 14);
  }, []);

  return <svg ref={svgRef} width={685} height={661} style={{ position: 'absolute', left: 0, top: 0, fontFamily: FONT, background: '#fff' }} />;
}
